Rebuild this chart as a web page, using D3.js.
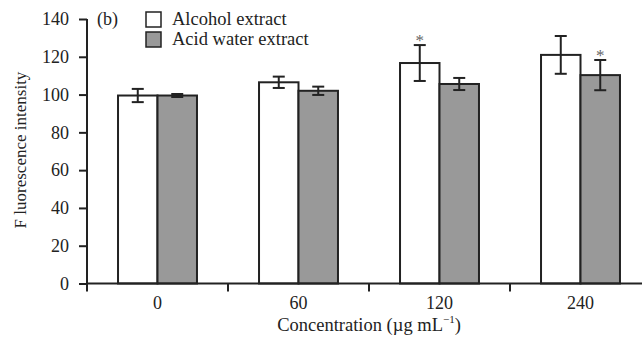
<!DOCTYPE html>
<html lang="en">
<head>
    <meta charset="UTF-8">
    <title>Fluorescence intensity</title>
    <script src="https://d3js.org/d3.v7.min.js"></script>
    <style>
        body { margin: 0; background: #fff; }
        text { font-family: "Liberation Serif", "DejaVu Serif", serif; fill: #222; }
    </style>
</head>
<body>
    <div id="chart"></div>
    <script>
        // data
        const concentrations = ["0", "60", "120", "240"];
        const seriesNames = ["Alcohol extract", "Acid water extract"];
        const alcoholValues = [99.5, 106.5, 116.7, 121];
        const alcoholErrors = [3.5, 3, 9.5, 10];
        const acidValues = [99.5, 102, 105.6, 110.3];
        const acidErrors = [0.8, 2.2, 3.2, 8];
        const alcoholStars = [false, false, true, false];
        const acidStars = [false, false, false, true];
        const yTicks = [0, 20, 40, 60, 80, 100, 120, 140];

        const width = 642, height = 339;
        const plotLeft = 87, plotBottom = 283.5, plotTop = 19;

        const svg = d3.select("#chart")
            .append("svg")
            .attr("width", width)
            .attr("height", height);

        const x0 = d3.scaleBand()
            .domain(concentrations)
            .range([plotLeft, plotLeft + 141 * 4])
            .padding(0);

        const x1 = d3.scaleBand()
            .domain(seriesNames)
            .range([x0.bandwidth() * 0.22, x0.bandwidth() * 0.78])
            .padding(0);

        const y = d3.scaleLinear()
            .domain([0, 140])
            .range([plotBottom, plotTop]);

        const colors = { "Alcohol extract": "#ffffff", "Acid water extract": "#999999" };

        // build rows for drawing
        const rows = [];
        concentrations.forEach((c, i) => {
            rows.push({ c, s: seriesNames[0], v: alcoholValues[i], e: alcoholErrors[i], star: alcoholStars[i] });
            rows.push({ c, s: seriesNames[1], v: acidValues[i], e: acidErrors[i], star: acidStars[i] });
        });

        // bars
        svg.selectAll("rect.bar")
            .data(rows)
            .enter()
            .append("rect")
            .attr("class", "bar")
            .attr("x", d => x0(d.c) + x1(d.s))
            .attr("y", d => y(d.v))
            .attr("width", x1.bandwidth())
            .attr("height", d => y(0) - y(d.v))
            .attr("fill", d => colors[d.s])
            .attr("stroke", "#222")
            .attr("stroke-width", 2);

        // error bars
        const cx = d => x0(d.c) + x1(d.s) + x1.bandwidth() / 2;
        const err = svg.append("g")
            .attr("stroke", "#222")
            .attr("stroke-width", 2);

        err.selectAll("line.v")
            .data(rows)
            .enter()
            .append("line")
            .attr("x1", cx).attr("x2", cx)
            .attr("y1", d => y(d.v + d.e))
            .attr("y2", d => y(d.v - d.e));

        [1, -1].forEach(sign => {
            err.selectAll(null)
                .data(rows)
                .enter()
                .append("line")
                .attr("x1", d => cx(d) - 6)
                .attr("x2", d => cx(d) + 6)
                .attr("y1", d => y(d.v + sign * d.e))
                .attr("y2", d => y(d.v + sign * d.e));
        });

        // significance stars
        svg.selectAll("text.star")
            .data(rows.filter(d => d.star))
            .enter()
            .append("text")
            .attr("class", "star")
            .attr("x", cx)
            .attr("y", d => y(d.v + d.e) + 1)
            .attr("text-anchor", "middle")
            .attr("font-size", "17px")
            .style("fill", "#666")
            .text("*");

        // y axis
        const yAxis = svg.append("g")
            .attr("transform", `translate(${plotLeft},0)`)
            .call(d3.axisLeft(y).tickValues(yTicks).tickSize(8).tickPadding(10));
        yAxis.select(".domain").attr("stroke", "#222").attr("stroke-width", 2).attr("d", `M0,${plotTop}V${plotBottom}`);
        yAxis.selectAll(".tick line").attr("stroke", "#222").attr("stroke-width", 2);
        yAxis.selectAll(".tick text").attr("font-size", "18px").attr("font-family", null);

        // x axis
        const xAxis = svg.append("g")
            .attr("transform", `translate(0,${plotBottom})`);
        xAxis.append("line")
            .attr("x1", plotLeft).attr("x2", width)
            .attr("stroke", "#222").attr("stroke-width", 2);
        xAxis.selectAll("line.tick")
            .data(concentrations)
            .enter()
            .append("line")
            .attr("x1", d => x0(d)).attr("x2", d => x0(d))
            .attr("y1", 0).attr("y2", 8)
            .attr("stroke", "#222").attr("stroke-width", 2);
        xAxis.selectAll("text.tick")
            .data(concentrations)
            .enter()
            .append("text")
            .attr("x", d => x0(d) + x0.bandwidth() / 2)
            .attr("y", 25)
            .attr("text-anchor", "middle")
            .attr("font-size", "18px")
            .text(d => d);

        // axis titles
        const xt = svg.append("text")
            .attr("x", 369)
            .attr("y", 331)
            .attr("text-anchor", "middle")
            .attr("font-size", "18.5px");
        xt.append("tspan").text("Concentration (\u00b5g mL");
        xt.append("tspan").attr("dy", -8).attr("font-size", "11px").text("\u22121");
        xt.append("tspan").attr("dy", 8).text(")");

        svg.append("text")
            .attr("transform", "translate(26,150) rotate(-90)")
            .attr("text-anchor", "middle")
            .attr("font-size", "17px")
            .text("F luorescence intensity");

        svg.append("text")
            .attr("x", 97)
            .attr("y", 25)
            .attr("font-size", "18px")
            .text("(b)");

        // legend
        const legend = svg.selectAll("g.legend")
            .data(seriesNames)
            .enter()
            .append("g")
            .attr("class", "legend")
            .attr("transform", (d, i) => `translate(146,${12 + i * 20})`);
        legend.append("rect")
            .attr("width", 15).attr("height", 15)
            .attr("fill", d => colors[d])
            .attr("stroke", "#222").attr("stroke-width", 1.5);
        legend.append("text")
            .attr("x", 26).attr("y", 13)
            .attr("font-size", "18.5px")
            .text(d => d);
    </script>
</body>
</html>
